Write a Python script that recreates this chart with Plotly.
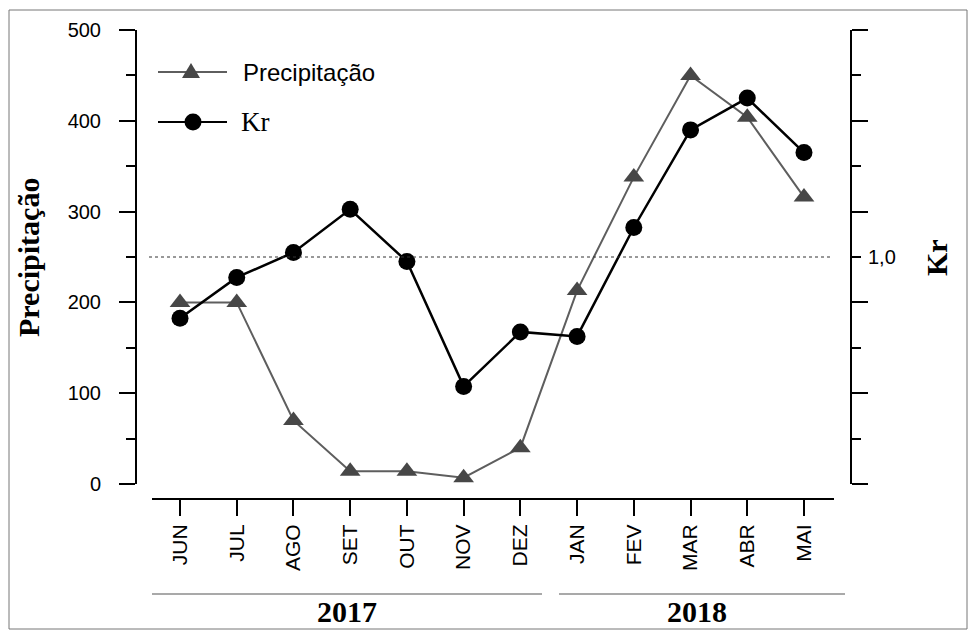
import plotly.graph_objects as go

# ---- data ----
months = ["JUN", "JUL", "AGO", "SET", "OUT", "NOV", "DEZ", "JAN", "FEV", "MAR", "ABR", "MAI"]
precip = [200, 200, 70, 14, 14, 7, 40, 213, 338, 450, 404, 316]
kr = [0.73, 0.91, 1.02, 1.21, 0.98, 0.43, 0.67, 0.65, 1.13, 1.56, 1.70, 1.46]
years = ["2017", "2018"]
kr_ref = 1.0
left_ticks = [0, 100, 200, 300, 400, 500]
left_minor = [50, 150, 250, 350, 450]
right_major = [0, 0.4, 0.8, 1.2, 1.6, 2.0]
right_minor = [0.2, 0.6, 1.0, 1.4, 1.8]

W, H = 976, 632
L, R, T, B = 137, 126, 30, 133
PW, PH = W - L - R, H - T - B


def px(x):
    return (x - L) / PW


def py(y):
    return (H - B - y) / PH


fig = go.Figure()
fig.add_trace(go.Scatter(
    x=months, y=precip, name="Precipitação", mode="lines+markers",
    line=dict(color="#5e5e5e", width=2),
    marker=dict(symbol="triangle-up", size=18, color="#474747"),
    yaxis="y", showlegend=False))
fig.add_trace(go.Scatter(
    x=months, y=kr, name="Kr", mode="lines+markers",
    line=dict(color="black", width=2.5),
    marker=dict(symbol="circle", size=17, color="black"),
    yaxis="y2", showlegend=False))

tickfont = dict(family="Liberation Sans, Arial", size=20, color="black")
ydom = [py(484), 1]

fig.update_layout(
    width=W, height=H,
    margin=dict(l=L, r=R, t=T, b=B),
    paper_bgcolor="white", plot_bgcolor="white",
    showlegend=False,
    xaxis=dict(
        type="category", range=[-0.758, 11.811], anchor="free", position=0,
        showline=False, showgrid=False, zeroline=False,
        ticks="outside", ticklen=16, tickwidth=2, tickcolor="black",
        tickangle=-90, tickfont=dict(family="Liberation Sans, Arial", size=21, color="black"),
    ),
    yaxis=dict(
        domain=ydom, range=[0, 500], showgrid=False, zeroline=False,
        showline=True, linecolor="black", linewidth=2,
        tickmode="array", tickvals=left_ticks, ticks="outside", ticklen=16, tickwidth=2,
        tickcolor="black", tickfont=tickfont, ticklabelstandoff=14,
        minor=dict(tickmode="array", tickvals=left_minor, ticks="outside", ticklen=9,
                   tickwidth=2, tickcolor="black", showgrid=False),
    ),
    yaxis2=dict(
        domain=ydom, range=[0, 2.0], overlaying="y", side="right", anchor="x",
        showgrid=False, zeroline=False, showline=True, linecolor="black", linewidth=2,
        tickmode="array", tickvals=right_major, ticktext=[""] * len(right_major),
        ticks="outside", ticklen=16, tickwidth=2, tickcolor="black",
        minor=dict(tickmode="array", tickvals=right_minor, ticks="outside", ticklen=9,
                   tickwidth=2, tickcolor="black", showgrid=False),
    ),
)

shapes = []
# x-axis line (detached)
shapes.append(dict(type="line", xref="paper", yref="paper", x0=px(152), x1=px(834),
                   y0=0, y1=0, line=dict(color="black", width=2)))
# reference dotted line at Kr = 1.0
shapes.append(dict(type="line", xref="paper", yref="y2", x0=px(149), x1=px(830),
                   y0=kr_ref, y1=kr_ref, line=dict(color="#333333", width=1, dash="dot")))
# year underline
shapes.append(dict(type="line", xref="paper", yref="paper", x0=px(152), x1=px(542),
                   y0=py(594), y1=py(594), line=dict(color="#555555", width=1.2)))
shapes.append(dict(type="line", xref="paper", yref="paper", x0=px(559), x1=px(845),
                   y0=py(594), y1=py(594), line=dict(color="#555555", width=1.2)))
# outer frame
shapes.append(dict(type="rect", xref="paper", yref="paper", x0=px(9), x1=px(967),
                   y0=py(629), y1=py(10), line=dict(color="#777777", width=1)))
# legend samples
shapes.append(dict(type="line", xref="paper", yref="paper", x0=px(158), x1=px(227),
                   y0=py(72), y1=py(72), line=dict(color="#5e5e5e", width=2)))
shapes.append(dict(type="path", xref="paper", yref="paper", xsizemode="pixel", ysizemode="pixel",
                   xanchor=px(191), yanchor=py(72), path="M-9,-6 L9,-6 L0,9 Z",
                   fillcolor="#474747", line=dict(width=0)))
shapes.append(dict(type="line", xref="paper", yref="paper", x0=px(158), x1=px(227),
                   y0=py(122), y1=py(122), line=dict(color="black", width=2)))
shapes.append(dict(type="circle", xref="paper", yref="paper", xsizemode="pixel", ysizemode="pixel",
                   xanchor=px(193), yanchor=py(122), x0=-8.5, x1=8.5, y0=-8.5, y1=8.5,
                   fillcolor="black", line=dict(width=0)))
fig.update_layout(shapes=shapes)

serif_bold = dict(family="Liberation Serif, Times New Roman", size=30, color="black")
ann = []
ann.append(dict(text="<b>Precipitação</b>", xref="paper", yref="paper", x=px(28), y=py(258),
                textangle=-90, showarrow=False, font=serif_bold, xanchor="center", yanchor="middle"))
ann.append(dict(text="<b>Kr</b>", xref="paper", yref="paper", x=px(936), y=py(258),
                textangle=-90, showarrow=False, font=serif_bold, xanchor="center", yanchor="middle"))
ann.append(dict(text="1,0", xref="paper", yref="y2", x=px(866), y=kr_ref, showarrow=False,
                xanchor="left", yanchor="middle", font=tickfont))
ann.append(dict(text="<b>" + years[0] + "</b>", xref="paper", yref="paper", x=px(347), y=py(611),
                showarrow=False, xanchor="center", yanchor="middle", font=serif_bold))
ann.append(dict(text="<b>" + years[1] + "</b>", xref="paper", yref="paper", x=px(697), y=py(611),
                showarrow=False, xanchor="center", yanchor="middle", font=serif_bold))
ann.append(dict(text="Precipitação", xref="paper", yref="paper", x=px(241), y=py(72),
                showarrow=False, xanchor="left", yanchor="middle",
                font=dict(family="Liberation Sans, Arial", size=24, color="black")))
ann.append(dict(text="Kr", xref="paper", yref="paper", x=px(239), y=py(122),
                showarrow=False, xanchor="left", yanchor="middle",
                font=dict(family="Liberation Serif, Times New Roman", size=27, color="black")))
fig.update_layout(annotations=ann)

fig.write_html("out.html", config={"displayModeBar": False},
               post_script="document.body.style.margin='0px';document.body.style.overflow='hidden';")
